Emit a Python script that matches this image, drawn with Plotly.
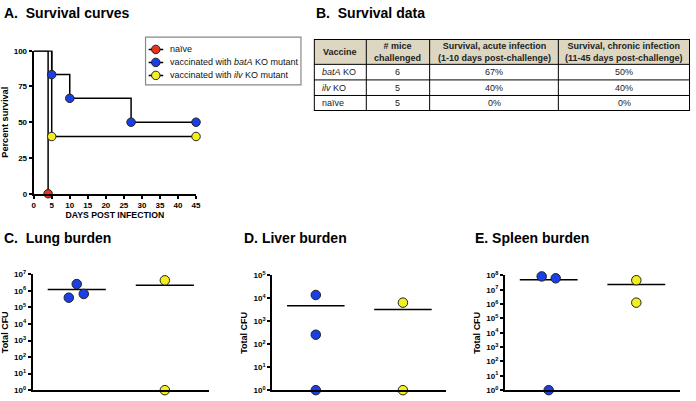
import plotly.graph_objects as go
import numpy as np

W, H = 696, 401
FONT = "Arial, Liberation Sans, sans-serif"

# ---------------- DATA ----------------
series_names = ["naïve", "vaccinated with <i>batA</i> KO mutant", "vaccinated with <i>ilv</i> KO mutant"]
naive_days = [0, 4]
naive_surv = [100, 0]
batA_days = [0, 5, 10, 27, 45]
batA_surv = [100, 83.3, 66.7, 50, 50]
ilv_days = [0, 5, 45]
ilv_surv = [100, 40, 40]

days_ticks = [0, 5, 10, 15, 20, 25, 30, 35, 40, 45]
surv_ticks = [0, 25, 50, 75, 100]

table_header = ["Vaccine", "# mice<br>challenged",
                "Survival, acute infection<br>(1-10 days post-challenge)",
                "Survival, chronic infection<br>(11-45 days post-challenge)"]
table_vaccine = ["<i>batA</i> KO", "<i>ilv</i> KO", "naïve"]
table_mice = ["6", "5", "5"]
table_acute = ["67%", "40%", "0%"]
table_chronic = ["50%", "40%", "0%"]

lung_batA = [2.6e6, 3.9e5, 6.6e5]
lung_ilv = [4.4e6, 1]
liver_batA = [1.4e4, 260, 1]
liver_ilv = [6.5e3, 1]
spleen_batA = [8.5e7, 6.3e7, 1]
spleen_ilv = [4.6e7, 1.26e6]

# ---------------- STYLE / POSITIONS ----------------
RED, BLUE, YEL = "#e8341e", "#1b3fe6", "#f3ee1e"
EDGE = "#222222"
colors = [RED, BLUE, YEL]

lung_batA_jit = [0.0, -0.09, 0.08]
lung_ilv_jit = [0.0, 0.0]
liver_batA_jit = [0.0, 0.0, 0.0]
liver_ilv_jit = [0.0, 0.0]
spleen_batA_jit = [-0.08, 0.08, 0.0]
spleen_ilv_jit = [0.0, 0.0]

col_widths = [53, 64, 130, 133]
header_h = 26
row_h = 16


def px(x):
    return x / W


def py(y):
    return 1 - y / H


fig = go.Figure()

# ---------------- Panel A ----------------
surv = [(naive_days, naive_surv), (batA_days, batA_surv), (ilv_days, ilv_surv)]
for (d, s), c in zip(surv, colors):
    fig.add_trace(go.Scatter(x=d, y=s, mode="lines", line=dict(color="black", width=1.5, shape="hv"),
                             xaxis="x", yaxis="y", showlegend=False, hoverinfo="skip", cliponaxis=False))
for (d, s), c in zip(surv, colors):
    fig.add_trace(go.Scatter(x=d[1:], y=s[1:], mode="markers",
                             marker=dict(color=c, size=8.5, line=dict(color=EDGE, width=1)),
                             xaxis="x", yaxis="y", showlegend=False, cliponaxis=False))

for i, (name, c) in enumerate(zip(series_names, colors)):
    row = 2 - i
    fig.add_trace(go.Scatter(x=[0.02, 0.114], y=[row, row], mode="lines",
                             line=dict(color="black", width=1.5),
                             xaxis="x5", yaxis="y5", showlegend=False, hoverinfo="skip"))
    fig.add_trace(go.Scatter(x=[0.066], y=[row], mode="markers",
                             marker=dict(color=c, size=8.5, line=dict(color=EDGE, width=1)),
                             xaxis="x5", yaxis="y5", showlegend=False, cliponaxis=False))
    fig.add_annotation(x=0.146, y=row, xref="x5", yref="y5", text=name, showarrow=False,
                       xanchor="left", yanchor="middle", font=dict(size=9, family=FONT, color="#111"))

fig.add_shape(type="rect", xref="paper", yref="paper", x0=px(145), x1=px(302), y0=py(81), y1=py(32),
              line=dict(color="#888888", width=1.2), fillcolor="rgba(0,0,0,0)")

# ---------------- Panel B ----------------
edges = np.concatenate([[0], np.cumsum(col_widths)])
rows = list(zip(table_vaccine, table_mice, table_acute, table_chronic))
total_h = header_h + row_h * len(rows)
row_edges = [0, header_h] + [header_h + row_h * (k + 1) for k in range(len(rows))]

fig.add_shape(type="rect", xref="x6", yref="y6", x0=0, x1=edges[-1], y0=0, y1=header_h,
              fillcolor="#ddd7c2", line=dict(width=0), layer="below")
for e in edges[1:-1]:
    fig.add_shape(type="line", xref="x6", yref="y6", x0=e, x1=e, y0=0, y1=total_h,
                  line=dict(color="black", width=1))
for r in row_edges[1:-1]:
    fig.add_shape(type="line", xref="x6", yref="y6", x0=0, x1=edges[-1], y0=r, y1=r,
                  line=dict(color="black", width=1))
fig.add_shape(type="rect", xref="x6", yref="y6", x0=0, x1=edges[-1], y0=0, y1=total_h,
              line=dict(color="black", width=2), fillcolor="rgba(0,0,0,0)")

for j, h in enumerate(table_header):
    fig.add_annotation(x=(edges[j] + edges[j + 1]) / 2, y=header_h / 2, xref="x6", yref="y6",
                       text="<b>%s</b>" % h, showarrow=False, xanchor="center", yanchor="middle",
                       font=dict(size=9, family=FONT, color="#222"))
for i, row in enumerate(rows):
    yc = row_edges[i + 1] + row_h / 2
    for j, v in enumerate(row):
        if j == 0:
            fig.add_annotation(x=edges[0] + 6, y=yc, xref="x6", yref="y6", text=v, showarrow=False,
                               xanchor="left", yanchor="middle", font=dict(size=9, family=FONT, color="#222"))
        else:
            fig.add_annotation(x=(edges[j] + edges[j + 1]) / 2, y=yc, xref="x6", yref="y6", text=v,
                               showarrow=False, xanchor="center", yanchor="middle",
                               font=dict(size=9, family=FONT, color="#222"))

# ---------------- Panels C-E ----------------
organs = [
    ("x2", "y2", lung_batA, lung_ilv, lung_batA_jit, lung_ilv_jit),
    ("x3", "y3", liver_batA, liver_ilv, liver_batA_jit, liver_ilv_jit),
    ("x4", "y4", spleen_batA, spleen_ilv, spleen_batA_jit, spleen_ilv_jit),
]
for xa, ya, b, y_, bj, yj in organs:
    for g, (vals, jit, c) in enumerate([(b, bj, BLUE), (y_, yj, YEL)]):
        pos = g + 1
        m = float(np.mean(vals))
        fig.add_trace(go.Scatter(x=[pos - 0.33, pos + 0.33], y=[m, m], mode="lines",
                                 line=dict(color="black", width=1.5), xaxis=xa, yaxis=ya,
                                 showlegend=False, hoverinfo="skip"))
        fig.add_trace(go.Scatter(x=[pos + j for j in jit], y=vals, mode="markers",
                                 marker=dict(color=c, size=9.5, line=dict(color=EDGE, width=1)),
                                 xaxis=xa, yaxis=ya, showlegend=False, cliponaxis=False))

tickfont = dict(size=8, family=FONT, color="black", weight="bold")
ax_common = dict(showgrid=False, zeroline=False, showline=True, linecolor="black", linewidth=2,
                 ticks="outside", ticklen=3, tickwidth=1.5, tickcolor="black", tickfont=tickfont)


def logaxis(n):
    vals = [10 ** k for k in range(n + 1)]
    txt = ["10<sup>%d</sup>" % k for k in range(n + 1)]
    return dict(type="log", range=[0, n], tickvals=vals, ticktext=txt, **ax_common,
                title=dict(text="<b>Total CFU</b>", font=dict(size=9, family=FONT, color="black"), standoff=4))


xcat = dict(showgrid=False, zeroline=False, showline=True, linecolor="black", linewidth=2,
            showticklabels=False, ticks="", range=[0.5, 2.5])

fig.update_layout(
    width=W, height=H, margin=dict(l=0, r=0, t=0, b=0),
    paper_bgcolor="white", plot_bgcolor="white", showlegend=False,
    font=dict(family=FONT, color="black"),
    xaxis=dict(domain=[px(32), px(196)], range=[0, 45], tickvals=days_ticks, anchor="y", **ax_common,
               title=dict(text="<b>DAYS POST INFECTION</b>", font=dict(size=8.7, family=FONT, color="black"), standoff=3)),
    yaxis=dict(domain=[py(193), py(46)], range=[0, 100], tickvals=surv_ticks, anchor="x", **ax_common,
               title=dict(text="<b>Percent survival</b>", font=dict(size=9.2, family=FONT, color="black"), standoff=4)),
    xaxis2=dict(domain=[px(31), px(209)], anchor="y2", **xcat),
    yaxis2=dict(domain=[py(395), py(276)], anchor="x2", **logaxis(7)),
    xaxis3=dict(domain=[px(273), px(449)], anchor="y3", **xcat),
    yaxis3=dict(domain=[py(395), py(277)], anchor="x3", **logaxis(5)),
    xaxis4=dict(domain=[px(508), px(685)], anchor="y4", **xcat),
    yaxis4=dict(domain=[py(395), py(277)], anchor="x4", **logaxis(8)),
    xaxis5=dict(domain=[px(145), px(302)], range=[0, 1], visible=False, anchor="y5"),
    yaxis5=dict(domain=[py(78), py(38)], range=[-0.5, 2.5], visible=False, anchor="x5"),
    xaxis6=dict(domain=[px(315), px(695)], range=[0, int(edges[-1])], visible=False, anchor="y6"),
    yaxis6=dict(domain=[py(34 + total_h), py(34)], range=[total_h, 0], visible=False, anchor="x6"),
)

titles = [("A.  Survival curves", 0, 7), ("B.  Survival data", 315, 7),
          ("C.  Lung burden", 0, 239), ("D. Liver burden", 242, 239), ("E. Spleen burden", 476, 239)]
for t, x, y in titles:
    fig.add_annotation(text="<b>%s</b>" % t, x=px(x), y=py(y), xref="paper", yref="paper",
                       xanchor="left", yanchor="middle", showarrow=False,
                       font=dict(size=14, family=FONT, color="black"))

fig.write_html("out.html", config={"displayModeBar": False},
               post_script="document.body.style.margin='0px';document.body.style.padding='0px';")
